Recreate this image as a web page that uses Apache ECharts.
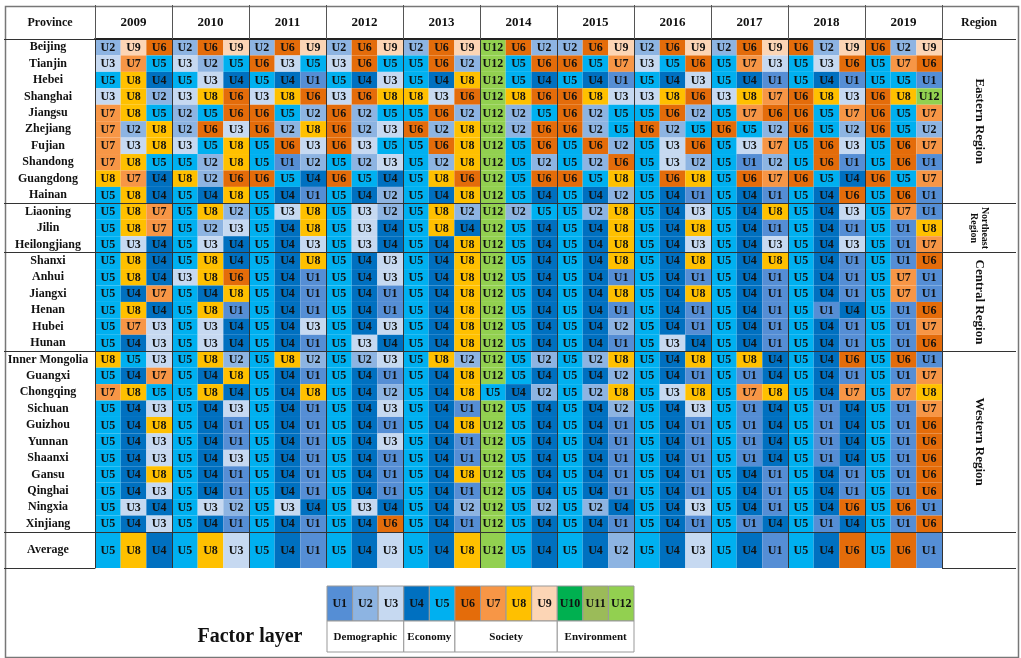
<!DOCTYPE html>
<html>
<head>
<meta charset="utf-8">
<script src="https://cdn.jsdelivr.net/npm/echarts@6/dist/echarts.min.js"></script>
<style>
  html, body { margin: 0; padding: 0; background: #fff; }
  #main { width: 1021px; height: 658px; }
</style>
</head>
<body>
<div id="main"></div>
<script>
// years shown in the header, each with three top factors
var years = ["2009", "2010", "2011", "2012", "2013", "2014", "2015", "2016", "2017", "2018", "2019"];

var provinces = [
  "Beijing", "Tianjin", "Hebei", "Shanghai", "Jiangsu", "Zhejiang", "Fujian", "Shandong", "Guangdong", "Hainan",
  "Liaoning", "Jilin", "Heilongjiang",
  "Shanxi", "Anhui", "Jiangxi", "Henan", "Hubei", "Hunan",
  "Inner Mongolia", "Guangxi", "Chongqing", "Sichuan", "Guizhou", "Yunnan", "Shaanxi", "Gansu", "Qinghai", "Ningxia", "Xinjiang"
];

var regions = ["Eastern Region", "Northeast Region", "Central Region", "Western Region"];
var regionSizes = [10, 3, 6, 11];

var factors = ["U1", "U2", "U3", "U4", "U5", "U6", "U7", "U8", "U9", "U10", "U11", "U12"];
var factorColors = ["#558ED5", "#8DB4E2", "#C6D9F1", "#0070C0", "#00B0F0", "#E46C0A", "#F79646", "#FFC000", "#FCD5B5", "#00B050", "#9BBB59", "#92D050"];
var factorGroups = ["Demographic", "Economy", "Society", "Environment"];
var groupSizes = [3, 2, 4, 3];

// top three factors (U number) per province, 2009 .. 2019
var ranking = [
  [2,9,6, 2,6,9, 2,6,9, 2,6,9, 2,6,9, 12,6,2, 2,6,9, 2,6,9, 2,6,9, 6,2,9, 6,2,9], // Beijing
  [3,7,5, 3,2,5, 6,3,5, 3,6,5, 5,6,2, 12,5,6, 6,5,7, 3,5,6, 5,7,3, 5,3,6, 5,7,6], // Tianjin
  [5,8,4, 5,3,4, 5,4,1, 5,4,3, 5,4,8, 12,5,4, 5,4,1, 5,4,3, 5,4,1, 5,4,1, 5,5,1], // Hebei
  [3,8,2, 3,8,6, 3,8,6, 3,6,8, 8,3,6, 12,8,6, 6,8,3, 3,8,6, 3,8,7, 6,8,3, 6,8,12], // Shanghai
  [7,8,5, 2,5,6, 6,5,2, 6,2,5, 5,6,2, 12,2,5, 6,2,5, 5,6,2, 5,7,6, 6,5,7, 6,5,7], // Jiangsu
  [7,2,8, 2,6,3, 6,2,8, 6,2,3, 6,2,8, 12,2,6, 6,2,5, 6,2,5, 6,5,2, 6,5,2, 6,5,2], // Zhejiang
  [7,3,8, 3,5,8, 5,6,3, 6,3,5, 5,6,8, 12,5,6, 5,6,2, 5,3,6, 5,3,7, 5,6,3, 5,6,7], // Fujian
  [7,8,5, 5,2,8, 5,1,2, 5,2,3, 5,2,8, 12,5,2, 5,2,6, 5,3,2, 5,1,2, 5,6,1, 5,6,1], // Shandong
  [8,7,4, 8,2,6, 6,5,4, 6,5,4, 5,8,6, 12,5,6, 6,5,8, 5,6,8, 5,6,7, 6,5,4, 6,5,7], // Guangdong
  [5,8,4, 5,4,8, 5,4,1, 5,4,2, 5,4,8, 12,5,4, 5,4,2, 5,4,1, 5,4,1, 5,4,6, 5,6,1], // Hainan
  [5,8,7, 5,8,2, 5,3,8, 5,3,2, 5,8,2, 12,2,5, 5,2,8, 5,4,3, 5,4,8, 5,4,3, 5,7,1], // Liaoning
  [5,8,7, 5,2,3, 5,4,8, 5,3,4, 5,8,4, 12,5,4, 5,4,8, 5,4,8, 5,4,1, 5,4,1, 5,1,8], // Jilin
  [5,3,4, 5,3,4, 5,4,3, 5,3,4, 5,4,8, 12,5,4, 5,4,8, 5,4,3, 5,4,3, 5,4,3, 5,1,7], // Heilongjiang
  [5,8,4, 5,8,4, 5,4,8, 5,4,3, 5,4,8, 12,5,4, 5,4,8, 5,4,8, 5,4,8, 5,4,1, 5,1,6], // Shanxi
  [5,8,4, 3,8,6, 5,4,1, 5,4,3, 5,4,8, 12,5,4, 5,4,1, 5,4,1, 5,4,1, 5,4,1, 5,7,1], // Anhui
  [5,4,7, 5,4,8, 5,4,1, 5,4,1, 5,4,8, 12,5,4, 5,4,8, 5,4,8, 5,4,1, 5,4,1, 5,7,1], // Jiangxi
  [5,8,4, 5,8,1, 5,4,1, 5,4,1, 5,4,8, 12,5,4, 5,4,1, 5,4,1, 5,4,1, 5,1,4, 5,1,6], // Henan
  [5,7,3, 5,3,4, 5,4,3, 5,4,3, 5,4,8, 12,5,4, 5,4,2, 5,4,1, 5,4,1, 5,4,1, 5,1,7], // Hubei
  [5,4,3, 5,3,4, 5,4,1, 5,3,4, 5,4,8, 12,5,4, 5,4,1, 5,3,4, 5,4,1, 5,4,1, 5,1,6], // Hunan
  [8,5,3, 5,8,2, 5,8,2, 5,2,3, 5,8,2, 12,5,2, 5,2,8, 5,4,8, 5,8,4, 5,4,6, 5,6,1], // Inner Mongolia
  [5,4,7, 5,4,8, 5,4,1, 5,4,1, 5,4,8, 12,5,4, 5,4,2, 5,4,1, 5,1,4, 5,4,1, 5,1,7], // Guangxi
  [7,8,5, 5,8,4, 5,4,8, 5,4,2, 5,4,8, 5,4,2, 5,2,8, 5,3,8, 5,7,8, 5,4,7, 5,7,8], // Chongqing
  [5,4,3, 5,4,3, 5,4,1, 5,4,3, 5,4,1, 12,5,4, 5,4,2, 5,4,3, 5,1,4, 5,1,4, 5,1,7], // Sichuan
  [5,4,8, 5,4,1, 5,4,1, 5,4,1, 5,4,8, 12,5,4, 5,4,1, 5,4,1, 5,1,4, 5,1,4, 5,1,6], // Guizhou
  [5,4,3, 5,4,1, 5,4,1, 5,4,3, 5,4,1, 12,5,4, 5,4,1, 5,4,1, 5,1,4, 5,1,4, 5,1,6], // Yunnan
  [5,4,3, 5,4,3, 5,4,1, 5,4,1, 5,4,1, 12,5,4, 5,4,1, 5,4,1, 5,1,4, 5,1,4, 5,1,6], // Shaanxi
  [5,4,8, 5,4,1, 5,4,1, 5,4,1, 5,4,8, 12,5,4, 5,4,1, 5,4,1, 5,4,1, 5,4,1, 5,1,6], // Gansu
  [5,4,3, 5,4,1, 5,4,1, 5,4,1, 5,4,1, 12,5,4, 5,4,1, 5,4,1, 5,4,1, 5,4,1, 5,1,6], // Qinghai
  [5,3,4, 5,3,2, 5,3,4, 5,3,4, 5,4,2, 12,5,2, 5,2,4, 5,4,3, 5,4,1, 5,4,6, 5,6,1], // Ningxia
  [5,4,3, 5,4,1, 5,4,1, 5,4,6, 5,4,1, 12,5,4, 5,4,1, 5,4,1, 5,1,4, 5,1,4, 5,1,6]  // Xinjiang
];
var average = [5,8,4, 5,8,3, 5,4,1, 5,4,3, 5,4,8, 12,5,4, 5,4,2, 5,4,3, 5,4,1, 5,4,6, 5,6,1];

(function() {
  var myChart = echarts.init(document.getElementById("main"));
  var FONT = '"Liberation Serif", "DejaVu Serif", serif';
  var LINE = "#333";

  // three sub-columns per year
  var cols = [];
  years.forEach(function (y) {
    for (var k = 1; k <= 3; k++) cols.push(y + "-" + k);
  });

  // region boundaries (row index where each region starts)
  var starts = [];
  var acc = 0;
  regionSizes.forEach(function (n) { starts.push(acc); acc += n; });

  var cellData = [];
  ranking.forEach(function (row, r) {
    row.forEach(function (u, c) { cellData.push([c, r, u]); });
  });
  var avgData = average.map(function (u, c) { return [c, 0, u]; });
  var legendData = factors.map(function (f, i) { return [i, 0, i + 1]; });
  var regionData = regions.map(function (name, i) { return [0, starts[i], starts[i] + regionSizes[i] - 1]; });
  var gAcc = 0;
  var groupData = factorGroups.map(function (name, i) {
    var d = [gAcc, gAcc + groupSizes[i] - 1, 0];
    gAcc += groupSizes[i];
    return d;
  });

  function cellRenderer(stroke) {
    return function (params, api) {
      var u = api.value(2);
      var p = api.coord([api.value(0), api.value(1)]);
      var s = api.size([1, 1]);
      return {
        type: "group",
        children: [
          {
            type: "rect",
            shape: { x: p[0] - s[0] / 2, y: p[1] - s[1] / 2, width: s[0], height: s[1] },
            style: { fill: factorColors[u - 1], stroke: stroke || null, lineWidth: stroke ? 1 : 0 }
          },
          {
            type: "text",
            style: {
              text: "U" + u, x: p[0], y: p[1] + 0.5, align: "center", verticalAlign: "middle",
              font: "bold 12px " + FONT, fill: "#111"
            }
          }
        ]
      };
    };
  }

  // region names in the right-hand column, rotated
  function renderRegion(params, api) {
    var s = api.size([0, 1]);
    var top = api.coord([0, api.value(1)])[1] - s[1] / 2;
    var bottom = api.coord([0, api.value(2)])[1] + s[1] / 2;
    var cs = params.coordSys;
    var name = regions[params.dataIndex];
    var small = regionSizes[params.dataIndex] < 5;
    return {
      type: "text",
      x: cs.x + cs.width + 37,
      y: (top + bottom) / 2,
      rotation: -Math.PI / 2,
      style: {
        text: small ? name.replace(" ", "\n") : name,
        x: 0, y: 0, align: "center", verticalAlign: "middle",
        font: "bold " + (small ? 10 : 13) + "px " + FONT, fill: "#111", lineHeight: small ? 11 : 14
      }
    };
  }

  // factor group names under the legend colour row
  function renderGroup(params, api) {
    var s = api.size([1, 1]);
    var left = api.coord([api.value(0), 0])[0] - s[0] / 2;
    var right = api.coord([api.value(1), 0])[0] + s[0] / 2;
    var cs = params.coordSys;
    var top = cs.y + cs.height;
    return {
      type: "group",
      children: [
        { type: "rect", shape: { x: left, y: top, width: right - left, height: 31 },
          style: { fill: "#fff", stroke: "#999", lineWidth: 1 } },
        { type: "text", style: { text: factorGroups[params.dataIndex], x: (left + right) / 2, y: top + 16,
          align: "center", verticalAlign: "middle", font: "bold 11px " + FONT, fill: "#111" } }
      ]
    };
  }

  var isBound = function (i) { return starts.indexOf(i) >= 0; };
  var isYear = function (i) { return i % 3 === 0; };

  var option = {
    backgroundColor: "#fff",
    animation: false,
    grid: [
      { left: 95, top: 39, width: 847, height: 493 },
      { left: 95, top: 532, width: 847, height: 36 },
      { left: 327, top: 586, width: 307, height: 35 }
    ],
    xAxis: [
      {
        // cells of the province table
        type: "category", gridIndex: 0, data: cols, z: 10,
        axisLabel: { show: false }, axisTick: { show: false }, axisLine: { show: false },
        splitLine: { show: true, interval: isYear, lineStyle: { color: LINE, width: 1 } }
      },
      {
        // year header
        type: "category", gridIndex: 0, data: years, position: "top", z: 10,
        axisLabel: { interval: 0, margin: 10, fontFamily: FONT, fontWeight: "bold", fontSize: 13, color: "#111" },
        axisTick: { show: true, interval: 0, length: 34, lineStyle: { color: "#555" } },
        axisLine: { show: true, lineStyle: { color: "#222", width: 2 } },
        splitLine: { show: false }
      },
      {
        type: "category", gridIndex: 1, data: cols, z: 10,
        axisLabel: { show: false }, axisTick: { show: false }, axisLine: { show: false },
        splitLine: { show: true, interval: isYear, lineStyle: { color: LINE, width: 1 } }
      },
      {
        type: "category", gridIndex: 2, data: factors, show: false
      }
    ],
    yAxis: [
      {
        type: "category", gridIndex: 0, data: provinces, inverse: true, z: 10,
        axisLabel: { interval: 0, align: "center", margin: 47, fontFamily: FONT, fontWeight: "bold", fontSize: 12, color: "#111" },
        axisTick: { show: true, interval: isBound, length: 91, lineStyle: { color: LINE, width: 1.2 } },
        axisLine: { show: true, lineStyle: { color: LINE, width: 1 } },
        splitLine: { show: true, interval: isBound, lineStyle: { color: LINE, width: 1.2 } }
      },
      {
        type: "category", gridIndex: 0, data: provinces, inverse: true, position: "right", z: 10,
        axisLabel: { show: false },
        axisTick: { show: true, interval: isBound, length: 74, lineStyle: { color: LINE, width: 1.2 } },
        axisLine: { show: true, lineStyle: { color: LINE, width: 1 } }
      },
      {
        type: "category", gridIndex: 1, data: ["Average"], z: 10,
        axisLabel: { interval: 0, align: "center", margin: 47, fontFamily: FONT, fontWeight: "bold", fontSize: 12, color: "#111" },
        axisTick: { show: true, interval: 0, length: 91, lineStyle: { color: LINE, width: 1.2 } },
        axisLine: { show: true, lineStyle: { color: LINE, width: 1 } }
      },
      {
        type: "category", gridIndex: 1, data: ["Average"], position: "right", z: 10,
        axisLabel: { show: false },
        axisTick: { show: true, interval: 0, length: 74, lineStyle: { color: LINE, width: 1.2 } },
        axisLine: { show: true, lineStyle: { color: LINE, width: 1 } }
      },
      {
        type: "category", gridIndex: 2, data: ["layer"], show: false
      }
    ],
    graphic: [
      { type: "rect", left: 3, top: 4, z: -1, shape: { width: 1013, height: 651 }, style: { fill: "none", stroke: "#777", lineWidth: 1.5 } },
      { type: "text", x: 50, y: 23, style: { text: "Province", align: "center", verticalAlign: "middle", font: "bold 12px " + FONT, fill: "#111" } },
      { type: "text", x: 979, y: 23, style: { text: "Region", align: "center", verticalAlign: "middle", font: "bold 12px " + FONT, fill: "#111" } },
      { type: "text", x: 250, y: 637, style: { text: "Factor layer", align: "center", verticalAlign: "middle", font: "bold 20px " + FONT, fill: "#111" } }
    ],
    series: [
      { type: "custom", xAxisIndex: 0, yAxisIndex: 0, renderItem: cellRenderer(), data: cellData, encode: { x: 0, y: 1 } },
      { type: "custom", xAxisIndex: 0, yAxisIndex: 1, renderItem: renderRegion, data: regionData, encode: { x: 0, y: [1, 2] } },
      { type: "custom", xAxisIndex: 2, yAxisIndex: 2, renderItem: cellRenderer(), data: avgData, encode: { x: 0, y: 1 } },
      { type: "custom", xAxisIndex: 3, yAxisIndex: 4, renderItem: cellRenderer("#999"), data: legendData, encode: { x: 0, y: 1 } },
      { type: "custom", xAxisIndex: 3, yAxisIndex: 4, renderItem: renderGroup, data: groupData, encode: { x: [0, 1], y: 2 } }
    ]
  };

  myChart.setOption(option);
  window.addEventListener("resize", function() {
    myChart.resize();
  });
})();
</script>
</body>
</html>
